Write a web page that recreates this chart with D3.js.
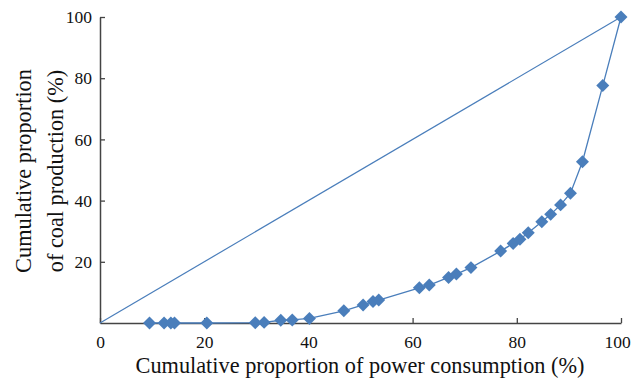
<!DOCTYPE html>
<html>
<head>
<meta charset="utf-8">
<script src="https://cdn.jsdelivr.net/npm/d3@7"></script>
<style>
  html, body { margin: 0; padding: 0; background: #fff; }
  svg { display: block; }
  text { font-family: "Liberation Serif", "Times New Roman", serif; fill: #111; }
</style>
</head>
<body>
<svg id="chart" width="632" height="380"></svg>
<script>
// Cumulative proportion of power consumption (%), sorted by region
const powerShare = [9.5, 12.3, 13.6, 14.3, 20.5, 29.8, 31.5, 34.7, 36.9, 40.2, 46.8,
  50.5, 52.4, 53.5, 61.3, 63.2, 66.9, 68.4, 71.2, 76.9, 79.3, 80.6, 82.2, 84.8,
  86.5, 88.4, 90.3, 92.6, 96.5, 100];
// Cumulative proportion of coal production (%)
const coalShare = [0, 0, 0, 0, 0, 0.1, 0.2, 0.9, 1.0, 1.5, 4.0,
  5.9, 7.0, 7.5, 11.5, 12.4, 14.9, 16.0, 18.1, 23.5, 26.0, 27.4, 29.5, 33.1,
  35.5, 38.6, 42.4, 52.7, 77.6, 100];
// Line of perfect equality
const equalityX = [0, 100];
const equalityY = [0, 100];
const xTicks = [0, 20, 40, 60, 80, 100];
const yTicks = [20, 40, 60, 80, 100];

const svg = d3.select("#chart");
const plotLeft = 100, plotRight = 621, plotTop = 17, plotBottom = 323;
const blue = "#4a7ebb";
const axisColor = "#444";

const x = d3.scaleLinear().domain([0, 100]).range([plotLeft, plotRight]);
const y = d3.scaleLinear().domain([0, 100]).range([plotBottom, plotTop]);

// Axes with inward ticks
const xAxis = svg.append("g").attr("transform", `translate(0,${plotBottom})`)
  .call(d3.axisBottom(x).tickValues(xTicks).tickSizeInner(-5).tickSizeOuter(0).tickPadding(10));
const yAxis = svg.append("g").attr("transform", `translate(${plotLeft},0)`)
  .call(d3.axisLeft(y).tickValues(yTicks).tickSizeInner(-5).tickSizeOuter(0).tickPadding(8));

[xAxis, yAxis].forEach(g => {
  g.select(".domain").attr("stroke", axisColor).attr("stroke-width", 1.5);
  g.selectAll(".tick line").attr("stroke", axisColor).attr("stroke-width", 1.3);
  g.selectAll(".tick text")
    .style("font-family", "'Liberation Serif', serif")
    .style("font-size", "17.5px").attr("fill", "#111");
});
xAxis.selectAll(".tick text").attr("dy", "0.85em");
// keep the last x label inside the frame
xAxis.selectAll(".tick text").filter(d => d === 100).attr("dx", -4);

// Equality diagonal
const eq = d3.zip(equalityX, equalityY);
svg.append("path")
  .attr("d", d3.line().x(d => x(d[0])).y(d => y(d[1]))(eq))
  .attr("fill", "none").attr("stroke", blue).attr("stroke-width", 1.2);

// Lorenz curve
const pts = d3.zip(powerShare, coalShare);
svg.append("path")
  .attr("d", d3.line().x(d => x(d[0])).y(d => y(d[1]))(pts))
  .attr("fill", "none").attr("stroke", blue).attr("stroke-width", 1.3);

const diamond = d3.symbol().type(d3.symbolSquare).size(84);
svg.append("g").selectAll("path").data(pts).join("path")
  .attr("d", diamond)
  .attr("transform", d => `translate(${x(d[0])},${y(d[1])}) rotate(45)`)
  .attr("fill", blue);

// Axis titles
svg.append("text")
  .attr("x", 360).attr("y", 373)
  .attr("text-anchor", "middle").style("font-size", "22.3px")
  .text("Cumulative proportion of power consumption (%)");

const yTitle = svg.append("text")
  .attr("transform", "translate(0,171) rotate(-90)")
  .attr("text-anchor", "middle").style("font-size", "22.3px");
yTitle.append("tspan").attr("x", 0).attr("y", 31).text("Cumulative proportion");
yTitle.append("tspan").attr("x", 0).attr("y", 63).text("of coal production (%)");
</script>
</body>
</html>
